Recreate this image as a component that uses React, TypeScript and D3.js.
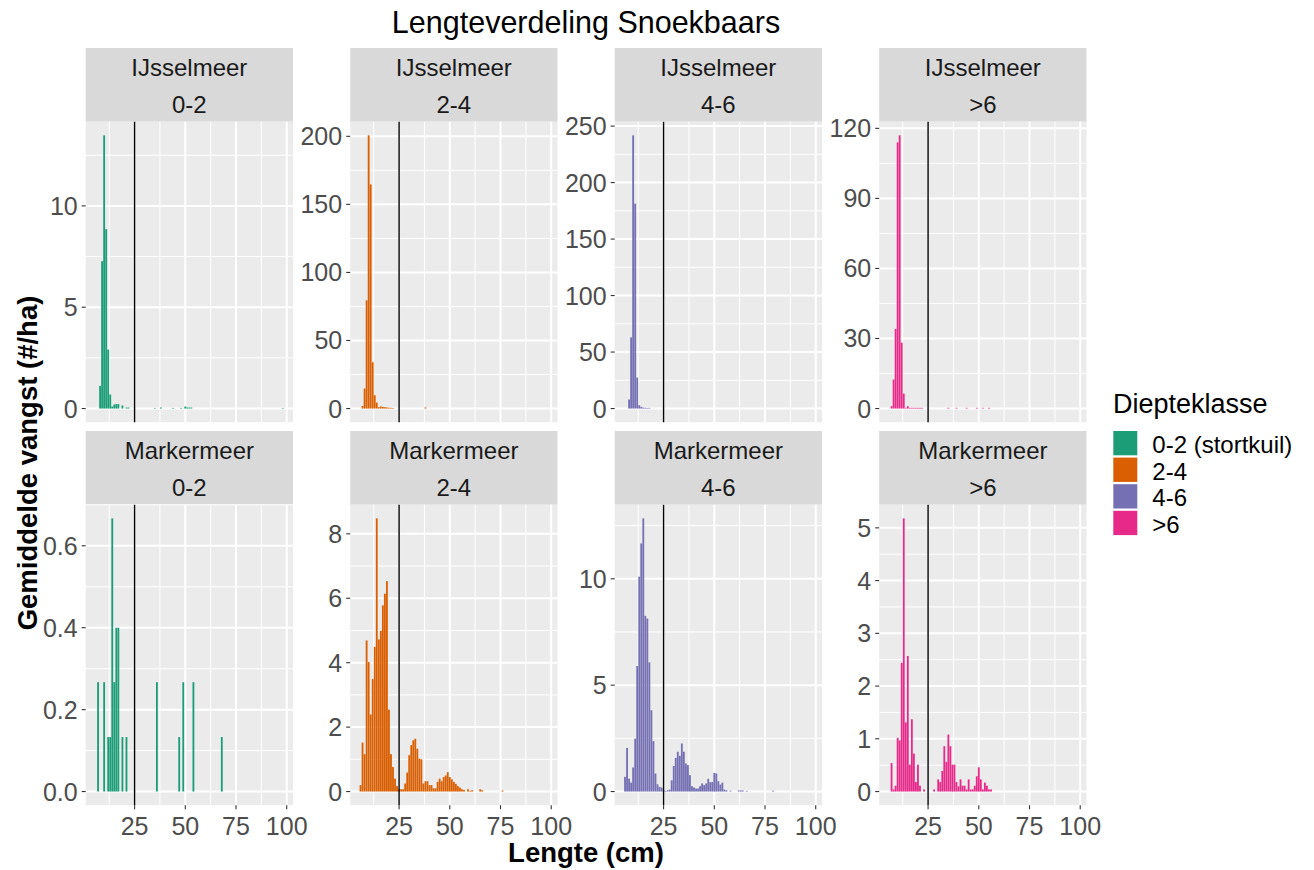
import * as d3 from 'd3';
import React from 'react';

const lakes = ['IJsselmeer', 'Markermeer'];
const depthClasses = ['0-2', '2-4', '4-6', '>6'];
const legendLabels = ['0-2 (stortkuil)', '2-4', '4-6', '>6'];
const classColors = ['#1B9E77', '#D95F02', '#7570B3', '#E7298A'];
const xTicks = [25, 50, 75, 100];
const xMinorTicks = [12.5, 37.5, 62.5, 87.5];
const cutoffLength = 25;

// [lengte (cm), gemiddelde vangst (#/ha)]
const ijsselmeer02: [number, number][] = [
  [8, 1.12], [9, 7.27], [10, 13.48], [11, 8.85], [12, 2.91], [13, 0.69], [14, 0.1], [15, 0.2],
  [16, 0.22], [17, 0.22], [19, 0.15], [21, 0.05], [22, 0.05], [35, 0.03], [38, 0.05], [44, 0.03],
  [48, 0.03], [50, 0.1], [51, 0.05], [52, 0.05], [53, 0.05], [98, 0.03],
];
const ijsselmeer24: [number, number][] = [
  [7, 1.9], [8, 14.7], [9, 79.5], [10, 200.7], [11, 164.7], [12, 34], [13, 9.8], [14, 4.4],
  [15, 1.0], [16, 1.5], [17, 1.2], [18, 1.0], [19, 0.8], [20, 0.6], [21, 0.5], [22, 0.4], [38, 0.8],
];
const ijsselmeer46: [number, number][] = [
  [8, 8], [9, 63], [10, 241.8], [11, 181.4], [12, 27.4], [13, 2.9], [14, 1.5], [15, 0.8],
  [16, 0.6], [17, 0.5], [18, 0.6],
];
const ijsselmeer6: [number, number][] = [
  [7, 1.0], [8, 12.4], [9, 34.1], [10, 114], [11, 117], [12, 28.2], [13, 6.4], [14, 0.3],
  [15, 1.0], [16, 0.3], [17, 0.3], [18, 0.3], [19, 0.3], [20, 0.3], [21, 0.3], [22, 0.3],
  [35, 0.3], [39, 0.3], [44, 0.3], [49, 0.3], [52, 0.3], [55, 0.3],
];
const markermeer02: [number, number][] = [
  [7, 0.267], [10, 0.267], [12, 0.133], [13, 0.133], [14, 0.667], [15, 0.267], [16, 0.4],
  [17, 0.4], [19, 0.133], [21, 0.133], [36, 0.267], [47, 0.133], [49, 0.267], [54, 0.267], [68, 0.133],
];
const markermeer24: [number, number][] = [
  [6, 0.2], [7, 1.52], [8, 1.16], [9, 4.69], [10, 4.02], [11, 2.39], [12, 3.49], [13, 4.49],
  [14, 8.48], [15, 4.72], [16, 4.99], [17, 5.78], [18, 6.14], [19, 6.53], [20, 2.54], [21, 1.16],
  [22, 0.76], [23, 0.4], [24, 0.17], [25, 0.07], [26, 0.07], [27, 0.07], [28, 0.25], [29, 0.59],
  [30, 1.13], [31, 1.44], [32, 1.59], [33, 1.64], [34, 1.33], [35, 1.02], [36, 1.0], [37, 0.25],
  [38, 0.32], [39, 0.32], [40, 0.2], [41, 0.2], [42, 0.1], [43, 0.1], [44, 0.3], [45, 0.4],
  [46, 0.32], [47, 0.45], [48, 0.5], [49, 0.6], [50, 0.45], [51, 0.38], [52, 0.3], [53, 0.24],
  [54, 0.17], [55, 0.12], [56, 0.07], [57, 0.05], [59, 0.07], [60, 0.02], [61, 0.04], [65, 0.07],
  [66, 0.04], [76, 0.03],
];
const markermeer46: [number, number][] = [
  [6, 0.69], [7, 2.05], [8, 0.61], [9, 0.42], [10, 1.13], [11, 2.49], [12, 5.9], [13, 10.1],
  [14, 11.66], [15, 12.84], [16, 8.26], [17, 8.13], [18, 6.07], [19, 3.82], [20, 2.37], [21, 0.85],
  [22, 0.34], [23, 0.22], [24, 0.19], [25, 0.06], [26, 0.03], [27, 0.06], [28, 0.09], [29, 0.53],
  [30, 1.2], [31, 1.58], [32, 1.87], [33, 1.68], [34, 2.26], [35, 1.87], [36, 1.32], [37, 1.24],
  [38, 0.77], [39, 0.25], [40, 0.19], [41, 0.14], [42, 0.14], [43, 0.25], [44, 0.38], [45, 0.3],
  [46, 0.38], [47, 0.6], [48, 0.44], [49, 0.45], [50, 0.88], [51, 0.85], [52, 0.49], [53, 0.33],
  [54, 0.42], [55, 0.09], [56, 0.06], [58, 0.04], [62, 0.05], [63, 0.05], [64, 0.05], [66, 0.03],
  [79, 0.04],
];
const markermeer6: [number, number][] = [
  [7, 0.54], [8, 0.04], [9, 0.11], [10, 1.02], [11, 0.97], [12, 2.44], [13, 5.18], [14, 1.31],
  [15, 2.57], [16, 0.51], [17, 1.37], [18, 0.72], [19, 0.18], [20, 0.51], [21, 0.11], [23, 0.04],
  [28, 0.04], [30, 0.23], [31, 0.18], [32, 0.39], [33, 0.86], [34, 0.56], [35, 1.08], [36, 0.86],
  [37, 0.51], [38, 0.51], [39, 0.18], [40, 0.1], [41, 0.23], [42, 0.11], [43, 0.11], [44, 0.04],
  [45, 0.23], [46, 0.04], [47, 0.04], [48, 0.11], [49, 0.29], [50, 0.46], [51, 0.23], [52, 0.04],
  [53, 0.17], [54, 0.11], [55, 0.04], [56, 0.04],
];

const panelData = [
  [ijsselmeer02, ijsselmeer24, ijsselmeer46, ijsselmeer6],
  [markermeer02, markermeer24, markermeer46, markermeer6],
];

const yTicks = [
  [[0, 5, 10], [0, 50, 100, 150, 200], [0, 50, 100, 150, 200, 250], [0, 30, 60, 90, 120]],
  [[0, 0.2, 0.4, 0.6], [0, 2, 4, 6, 8], [0, 5, 10], [0, 1, 2, 3, 4, 5]],
];

const W = 1314;
const H = 870;
const panelLeft0 = 85.7;
const panelPitch = 264.5;
const panelW = 207.3;
const stripTops = [48, 431];
const stripH = 73.7;
const panelH = 300.5;
const font = '"Liberation Sans", Arial, Helvetica, sans-serif';
const barWidth = 0.9;

const allLengths = panelData.flat().flatMap((p) => p.map((d) => d[0]));

const App = () => {
  const lo = (d3.min(allLengths) as number) - barWidth / 2;
  const hi = (d3.max(allLengths) as number) + barWidth / 2;
  const pad = (hi - lo) * 0.05;

  return (
    <svg width={W} height={H} style={{ position: 'absolute', left: 0, top: 0, background: '#fff' }}
      fontFamily={font}>
      <text x={586} y={33} fontSize={30.5} textAnchor="middle" fill="#000">Lengteverdeling Snoekbaars</text>

      {panelData.map((row, r) => row.map((data, c) => {
        const left = panelLeft0 + c * panelPitch;
        const top = stripTops[r] + stripH;
        const x = d3.scaleLinear().domain([lo - pad, hi + pad]).range([left, left + panelW]);
        const maxV = d3.max(data, (d) => d[1]) as number;
        const y = d3.scaleLinear().domain([-0.05 * maxV, 1.05 * maxV]).range([top + panelH, top]);
        const ticks = yTicks[r][c];
        const step = ticks[1] - ticks[0];
        const minor = ticks.map((t) => t + step / 2).filter((t) => t < y.domain()[1]);
        const fmt = r === 1 && c === 0 ? d3.format('.1f') : d3.format('d');
        return (
          <g key={`${r}-${c}`}>
            <rect x={left} y={stripTops[r]} width={panelW} height={stripH} fill="#D9D9D9" />
            <text x={left + panelW / 2} y={stripTops[r] + 28} fontSize={24} textAnchor="middle" fill="#1A1A1A">{lakes[r]}</text>
            <text x={left + panelW / 2} y={stripTops[r] + 64.7} fontSize={24} textAnchor="middle" fill="#1A1A1A">{depthClasses[c]}</text>
            <rect x={left} y={top} width={panelW} height={panelH} fill="#EBEBEB" />
            {minor.map((t) => (
              <line key={`ym${t}`} x1={left} x2={left + panelW} y1={y(t)} y2={y(t)} stroke="#fff" strokeWidth={1} />
            ))}
            {xMinorTicks.map((t) => (
              <line key={`xm${t}`} x1={x(t)} x2={x(t)} y1={top} y2={top + panelH} stroke="#fff" strokeWidth={1} />
            ))}
            {ticks.map((t) => (
              <line key={`yg${t}`} x1={left} x2={left + panelW} y1={y(t)} y2={y(t)} stroke="#fff" strokeWidth={2} />
            ))}
            {xTicks.map((t) => (
              <line key={`xg${t}`} x1={x(t)} x2={x(t)} y1={top} y2={top + panelH} stroke="#fff" strokeWidth={2} />
            ))}
            {data.map(([len, v]) => (
              <rect key={len} x={x(len - barWidth / 2)} width={x(len + barWidth / 2) - x(len - barWidth / 2)}
                y={y(v)} height={y(0) - y(v)} fill={classColors[c]} />
            ))}
            <line x1={x(cutoffLength)} x2={x(cutoffLength)} y1={top} y2={top + panelH} stroke="#000" strokeWidth={1.4} />
            {ticks.map((t) => (
              <g key={`yt${t}`}>
                <line x1={left - 4} x2={left} y1={y(t)} y2={y(t)} stroke="#333" strokeWidth={1.1} />
                <text x={left - 8} y={y(t)} dy="0.36em" fontSize={25} textAnchor="end" fill="#4D4D4D">{fmt(t)}</text>
              </g>
            ))}
            {r === 1 && xTicks.map((t) => (
              <g key={`xt${t}`}>
                <line x1={x(t)} x2={x(t)} y1={top + panelH} y2={top + panelH + 4} stroke="#333" strokeWidth={1.1} />
                <text x={x(t)} y={top + panelH + 30} fontSize={25} textAnchor="middle" fill="#4D4D4D">{t}</text>
              </g>
            ))}
          </g>
        );
      }))}

      <text x={586} y={862} fontSize={27.5} fontWeight="bold" textAnchor="middle" fill="#000">Lengte (cm)</text>
      <text transform="translate(37,463) rotate(-90)" fontSize={27.5} fontWeight="bold" textAnchor="middle" fill="#000">Gemiddelde vangst (#/ha)</text>

      <text x={1113} y={413} fontSize={27} fill="#000">Diepteklasse</text>
      {legendLabels.map((lab, i) => (
        <g key={lab}>
          <rect x={1113.3} y={431 + i * 26.6} width={24} height={24.3} fill={classColors[i]} />
          <text x={1152.3} y={431 + i * 26.6 + 22} fontSize={24} fill="#000">{lab}</text>
        </g>
      ))}
    </svg>
  );
};

export default App;
